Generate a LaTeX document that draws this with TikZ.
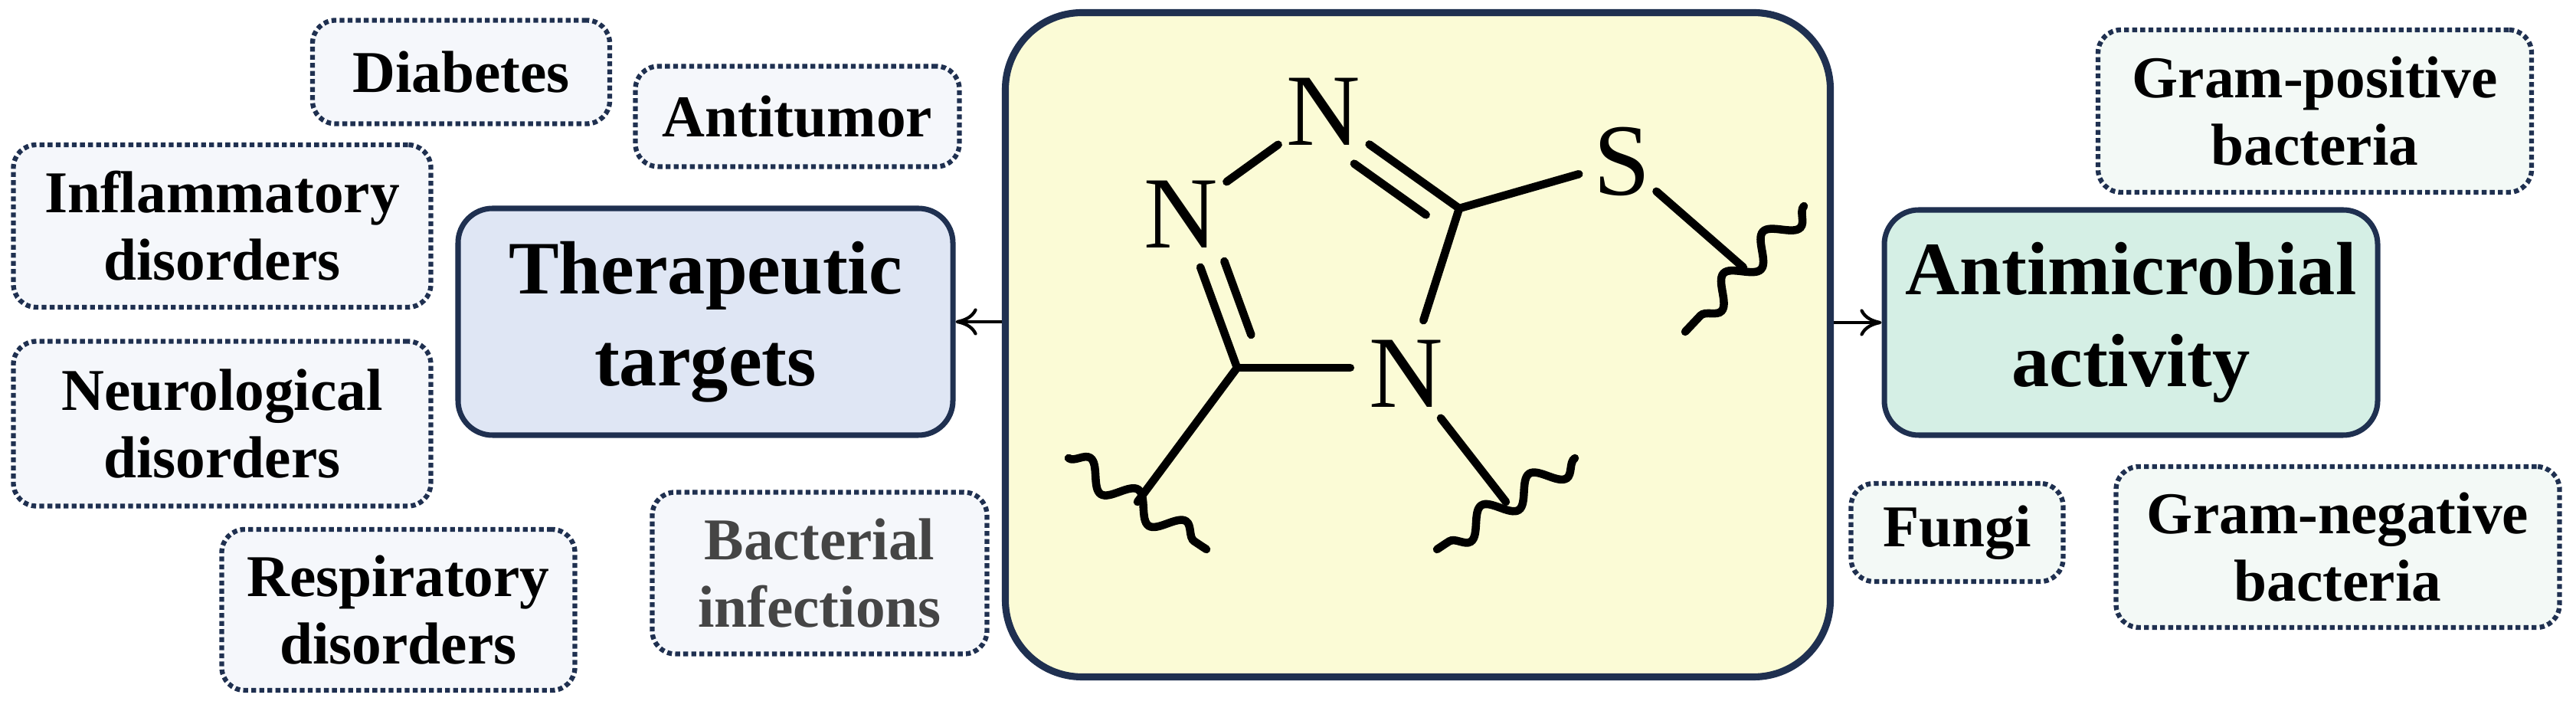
\documentclass[tikz,border=0pt]{standalone}
\usepackage{fontspec}
\setmainfont{Liberation Serif}
\usetikzlibrary{calc,arrows.meta,decorations.pathmorphing}
\definecolor{navy}{HTML}{1F3050}
\definecolor{smallfill}{HTML}{F5F7FB}
\definecolor{therfill}{HTML}{DFE6F4}
\definecolor{centfill}{HTML}{FBFBD6}
\definecolor{antifill}{HTML}{D5EFE5}
\definecolor{greenfill}{HTML}{F3F9F6}
\definecolor{graytext}{HTML}{454545}
\tikzset{
  small/.style={draw=navy, line width=1.8pt, dash pattern=on 1.8pt off 1.2pt, fill=smallfill, rounded corners=0.3cm, align=center,
    font=\fontsize{22}{25}\selectfont\bfseries, inner sep=0pt},
  smallg/.style={small, fill=greenfill},
  mainbox/.style={draw=navy, line width=2pt, rounded corners=0.45cm, align=center,
    font=\fontsize{28}{34}\selectfont\bfseries, inner sep=0pt},
  atom/.style={circle, inner sep=0pt, minimum size=1.45cm, font=\fontsize{38}{40}\selectfont},
  bond/.style={line width=3pt, line cap=round},
  wavy/.style={line width=3pt, line cap=round, decorate, decoration={snake, segment length=0.75cm, amplitude=0.16cm}},
  conn/.style={line width=1.2pt, -{To[length=8pt,width=10pt]}}
}
\begin{document}
\begin{tikzpicture}
\useasboundingbox (0,0) rectangle (33.63,-9.28);
% central
\node[draw=navy, line width=2.6pt, fill=centfill, rounded corners=1cm, minimum width=10.77cm, minimum height=8.67cm] (cent) at (18.51,-4.50) {};
% main boxes
\node[mainbox, fill=therfill, minimum width=6.46cm, minimum height=2.96cm] (ther) at (9.21,-4.20) {Therapeutic\\targets};
\node[mainbox, fill=antifill, minimum width=6.44cm, minimum height=2.94cm] (anti) at (27.82,-4.21) {Antimicrobial\\activity};
% small boxes
\node[small, minimum width=3.88cm, minimum height=1.35cm] (diab) at (6.02,-0.94) {Diabetes};
\node[small, minimum width=4.23cm, minimum height=1.31cm] (atum) at (10.41,-1.52) {Antitumor};
\node[small, minimum width=5.45cm, minimum height=2.12cm] (infl) at (2.90,-2.95) {Inflammatory\\disorders};
\node[small, minimum width=5.45cm, minimum height=2.15cm] (neur) at (2.90,-5.53) {Neurological\\disorders};
\node[small, minimum width=4.61cm, minimum height=2.10cm] (resp) at (5.20,-7.96) {Respiratory\\disorders};
\node[small, minimum width=4.37cm, minimum height=2.11cm, text=graytext] (bact) at (10.70,-7.48) {Bacterial\\infections};
\node[smallg, minimum width=5.66cm, minimum height=2.12cm] (gpos) at (30.22,-1.45) {Gram-positive\\bacteria};
\node[smallg, minimum width=2.77cm, minimum height=1.28cm] (fung) at (25.55,-6.95) {Fungi};
\node[smallg, minimum width=5.79cm, minimum height=2.10cm] (gneg) at (30.52,-7.14) {Gram-negative\\bacteria};
% connectors
\draw[conn] (cent.west |- ther.east) -- (ther.east);
\draw[conn] (cent.east |- anti.west) -- (anti.west);
% molecule
\node[atom] (N1) at (17.28,-1.46) {N};
\node[atom] (N2) at (15.42,-2.80) {N};
\node[atom] (N4) at (18.36,-4.88) {N};
\node[atom, minimum size=1.0cm] (S) at (21.18,-2.11) {S};
\coordinate (C5) at (19.05,-2.72);
\coordinate (C3) at (16.15,-4.80);
\coordinate (E1) at (14.85,-6.55);
\coordinate (E2) at (19.66,-6.55);
\coordinate (E3) at (22.76,-3.49);
\coordinate (W1a) at (13.95,-5.98); \coordinate (W1b) at (15.75,-7.17);
\coordinate (W2a) at (20.56,-5.98); \coordinate (W2b) at (18.76,-7.17);
\coordinate (W3a) at (23.55,-2.69); \coordinate (W3b) at (22.00,-4.33);
\draw[bond] (N2) -- (N1);
\draw[bond] (N1) -- (C5);
\draw[bond] ($(N1)!0.33!(C5)!0.32cm!-90:(C5)$) -- ($(N1)!0.86!(C5)!0.32cm!-90:(C5)$);
\draw[bond] (C5) -- (S);
\draw[bond] (C5) -- (N4);
\draw[bond] (C3) -- (C3 -| N4.west);
\draw[bond] (C3) -- (N2);
\draw[bond] ($(C3)!0.16!(N2)!0.32cm!-90:(N2)$) -- ($(C3)!0.64!(N2)!0.32cm!-90:(N2)$);
\draw[bond] (C3) -- (E1);
\draw[bond] (N4) -- (E2);
\draw[bond] (S) -- (E3);
\draw[wavy] (W1a) -- (W1b);
\draw[wavy] (W2a) -- (W2b);
\draw[wavy] (W3a) -- (W3b);
\end{tikzpicture}
\end{document}
